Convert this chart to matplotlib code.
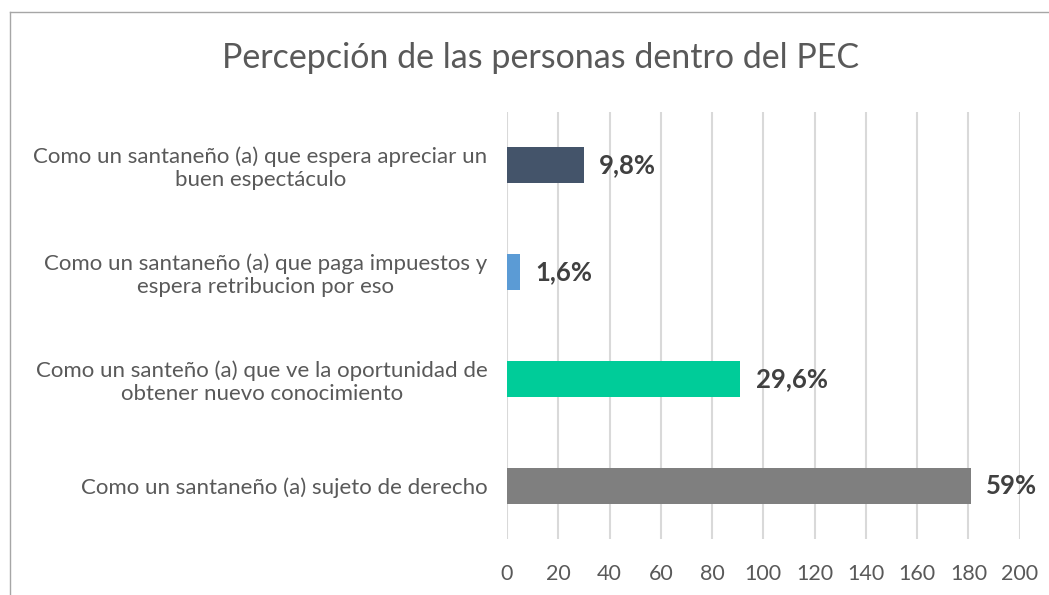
import matplotlib.pyplot as plt
from matplotlib.lines import Line2D

categories = [
    "Como un santaneño (a) sujeto de derecho",
    "Como un santeño (a) que ve la oportunidad de\nobtener nuevo conocimiento",
    "Como un santaneño (a) que paga impuestos y\nespera retribucion por eso",
    "Como un santaneño (a) que espera apreciar un\nbuen espectáculo",
]
values = [181, 91, 5, 30]
labels = ["59%", "29,6%", "1,6%", "9,8%"]
colors = ["#7F7F7F", "#00CC99", "#5B9BD5", "#44546A"]
xticks = list(range(0, 201, 20))

plt.rcParams['font.family'] = ['Lato', 'DejaVu Sans']

fig = plt.figure(figsize=(10.49, 5.95), dpi=100)
ax = fig.add_axes([0.4833, 0.0933, 0.4887, 0.7193])

bars = ax.barh(range(len(values)), values, height=0.34, color=colors, zorder=3)
ax.bar_label(bars, labels=labels, padding=11, fontsize=18.5, fontweight='bold', color='#404040')

ax.set_xlim(0, 200)
ax.set_ylim(-0.5, len(values) - 0.5)
ax.set_xticks(xticks)
ax.set_yticks(range(len(values)))
ax.set_yticklabels(categories, multialignment='center')
ax.tick_params(axis='x', length=0, labelsize=15.5, colors='#595959', pad=18)
ax.tick_params(axis='y', length=0, labelsize=16, colors='#595959', pad=14)
ax.grid(axis='x', color='#D9D9D9', linewidth=1.5, zorder=0)
for s in ax.spines.values():
    s.set_visible(False)

fig.text(0.5157, 0.902, "Percepción de las personas dentro del PEC", ha='center', va='center',
         fontsize=24.5, color='#595959')

# chart border
fig.add_artist(Line2D([10/1049, 10/1049], [0, 1 - 12/595], color='#A6A6A6', lw=1))
fig.add_artist(Line2D([10/1049, 1], [1 - 12/595, 1 - 12/595], color='#A6A6A6', lw=1))

fig.savefig("out.png", dpi=100)
